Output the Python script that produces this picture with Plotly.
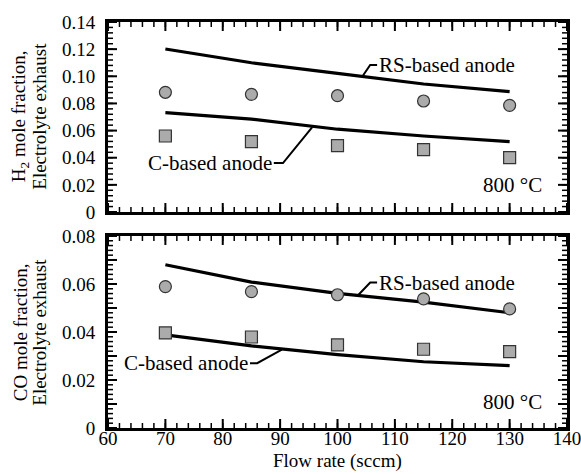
import plotly.graph_objects as go

flow = [70, 85, 100, 115, 130]

h2_rs_model = [0.1201, 0.110, 0.1022, 0.0943, 0.0887]
h2_c_model = [0.0732, 0.0685, 0.061, 0.056, 0.0518]
h2_rs_exp = [0.0882, 0.0867, 0.0857, 0.0818, 0.0786]
h2_c_exp = [0.056, 0.0518, 0.0489, 0.0459, 0.040]

co_rs_model = [0.068, 0.0608, 0.0561, 0.0524, 0.048]
co_c_model = [0.0388, 0.0342, 0.0306, 0.0276, 0.026]
co_rs_exp = [0.0589, 0.0568, 0.0555, 0.0538, 0.0496]
co_c_exp = [0.0396, 0.0379, 0.0346, 0.0328, 0.0318]

x_ticks = [60, 70, 80, 90, 100, 110, 120, 130, 140]
x_text = ["60", "70", "80", "90", "100", "110", "120", "130", "140"]
top_y_ticks = [0, 0.02, 0.04, 0.06, 0.08, 0.10, 0.12, 0.14]
top_y_text = ["0", "0.02", "0.04", "0.06", "0.08", "0.10", "0.12", "0.14"]
bot_y_ticks = [0, 0.01, 0.02, 0.03, 0.04, 0.05, 0.06, 0.07, 0.08]
bot_y_text = ["0", "", "0.02", "", "0.04", "", "0.06", "", "0.08"]

X_RANGE = [60, 140]
TOP_RANGE = [0, 0.14]
BOT_RANGE = [0, 0.08]
TOP_DOM = [0.532, 1.0]
BOT_DOM = [0.0, 0.473]
X_MINOR_STEP = 2
TOP_MINOR_STEP = 0.004
BOT_MINOR_STEP = 0.002

FONT = "Liberation Serif"
FS = 19
FS_IN = 21
marker_fill = "#ababab"
marker_line = dict(color="#333333", width=1.2)

fig = go.Figure()

def add_panel(xa, ya, rs_model, c_model, rs_exp, c_exp):
    fig.add_trace(go.Scatter(x=flow, y=rs_model, mode="lines", line=dict(color="black", width=3.2),
                             xaxis=xa, yaxis=ya, showlegend=False))
    fig.add_trace(go.Scatter(x=flow, y=c_model, mode="lines", line=dict(color="black", width=3.2),
                             xaxis=xa, yaxis=ya, showlegend=False))
    fig.add_trace(go.Scatter(x=flow, y=rs_exp, mode="markers",
                             marker=dict(symbol="circle", size=12, color=marker_fill, line=marker_line),
                             xaxis=xa, yaxis=ya, showlegend=False))
    fig.add_trace(go.Scatter(x=flow, y=c_exp, mode="markers",
                             marker=dict(symbol="square", size=12, color=marker_fill, line=marker_line),
                             xaxis=xa, yaxis=ya, showlegend=False))

add_panel("x", "y", h2_rs_model, h2_c_model, h2_rs_exp, h2_c_exp)
add_panel("x2", "y2", co_rs_model, co_c_model, co_rs_exp, co_c_exp)

def base_axis(**kw):
    d = dict(showline=True, linewidth=3, linecolor="black", mirror=True, ticks="",
             showgrid=False, zeroline=False, automargin=False, ticklabeloverflow="allow",
             tickfont=dict(family=FONT, size=FS, color="black"))
    d.update(kw)
    return d

fig.update_layout(
    width=581, height=474,
    margin=dict(l=108, r=14, t=22, b=46),
    paper_bgcolor="white", plot_bgcolor="white",
    font=dict(family=FONT, size=FS, color="black"),
    xaxis=base_axis(domain=[0, 1], range=X_RANGE, anchor="y", tickvals=x_ticks, showticklabels=False),
    yaxis=base_axis(domain=TOP_DOM, range=TOP_RANGE, anchor="x", tickvals=top_y_ticks,
                    ticktext=top_y_text, ticklabelstandoff=6),
    xaxis2=base_axis(domain=[0, 1], range=X_RANGE, anchor="y2", tickvals=x_ticks, ticktext=x_text,
                     ticklabelstandoff=-9),
    yaxis2=base_axis(domain=BOT_DOM, range=BOT_RANGE, anchor="x2", tickvals=bot_y_ticks,
                     ticktext=bot_y_text, ticklabelstandoff=6),
)

# inward tick marks on all four edges, placed through the axes' own scales
def steps(lo, hi, step):
    n = int(round((hi - lo) / step))
    return [lo + i * step for i in range(n + 1)]

MAJOR_LEN, MINOR_LEN = 9, 5
tick_shapes = []
def add_ticks(xa, ya, y_major, y_minor_step, y_range):
    x_minor = steps(X_RANGE[0], X_RANGE[1], X_MINOR_STEP)
    y_minor = steps(y_range[0], y_range[1], y_minor_step)
    for vals, length, width in [(x_minor, MINOR_LEN, 1.5), (x_ticks, MAJOR_LEN, 2)]:
        for v in vals:
            for anchor, sgn in [(0, 1), (1, -1)]:
                tick_shapes.append(dict(type="line", xref=xa, yref=ya + " domain", ysizemode="pixel",
                                        yanchor=anchor, x0=v, x1=v, y0=0, y1=sgn * length,
                                        line=dict(color="black", width=width)))
    for vals, length, width in [(y_minor, MINOR_LEN, 1.5), (y_major, MAJOR_LEN, 2)]:
        for v in vals:
            for anchor, sgn in [(0, 1), (1, -1)]:
                tick_shapes.append(dict(type="line", yref=ya, xref=xa + " domain", xsizemode="pixel",
                                        xanchor=anchor, y0=v, y1=v, x0=0, x1=sgn * length,
                                        line=dict(color="black", width=width)))

add_ticks("x", "y", top_y_ticks, TOP_MINOR_STEP, TOP_RANGE)
add_ticks("x2", "y2", bot_y_ticks, BOT_MINOR_STEP, BOT_RANGE)
fig.update_layout(shapes=tick_shapes)

fig.add_annotation(text="Flow rate (sccm)", xref="paper", yref="paper", x=0.5, y=-0.0813,
                   showarrow=False, xanchor="center", yanchor="middle", font=dict(family=FONT, size=FS))
for (yc, l1, l2) in [(0.768, "H<sub>2</sub> mole fraction,", "Electrolyte exhaust"),
                     (0.236, "CO mole fraction,", "Electrolyte exhaust")]:
    fig.add_annotation(text=l1, xref="paper", yref="paper", x=-0.1917, y=yc, textangle=-90,
                       showarrow=False, xanchor="center", yanchor="middle", font=dict(family=FONT, size=FS))
    fig.add_annotation(text=l2, xref="paper", yref="paper", x=-0.1492, y=yc, textangle=-90,
                       showarrow=False, xanchor="center", yanchor="middle", font=dict(family=FONT, size=FS))

labels = [
    ("x", "y", "RS-based anode", [104.3, 105.7, 106.9], [0.0997, 0.1083, 0.1083], "left"),
    ("x", "y", "C-based anode", [95.6, 90.5, 88.9], [0.0625, 0.0361, 0.0361], "right"),
    ("x2", "y2", "RS-based anode", [103.5, 105.7, 106.9], [0.0551, 0.0606, 0.0606], "left"),
    ("x2", "y2", "C-based anode", [90.3, 86.0, 84.75], [0.0326, 0.027, 0.027], "right"),
]
for xa, ya, txt, lx, ly, anchor in labels:
    fig.add_trace(go.Scatter(x=lx, y=ly, mode="lines", line=dict(color="black", width=2),
                             xaxis=xa, yaxis=ya, showlegend=False, hoverinfo="skip"))
    fig.add_annotation(text=txt, xref=xa, yref=ya, x=lx[-1], y=ly[-1], showarrow=False,
                       xanchor=anchor, yanchor="middle", font=dict(family=FONT, size=FS_IN))

fig.add_annotation(text="800 °C", xref="x", yref="y", x=136.0, y=0.02, showarrow=False,
                   xanchor="right", yanchor="middle", font=dict(family=FONT, size=FS_IN))
fig.add_annotation(text="800 °C", xref="x2", yref="y2", x=136.0, y=0.0107, showarrow=False,
                   xanchor="right", yanchor="middle", font=dict(family=FONT, size=FS_IN))

fig.write_html("out.html", config={"displayModeBar": False},
               post_script="document.body.style.margin='0px';")
